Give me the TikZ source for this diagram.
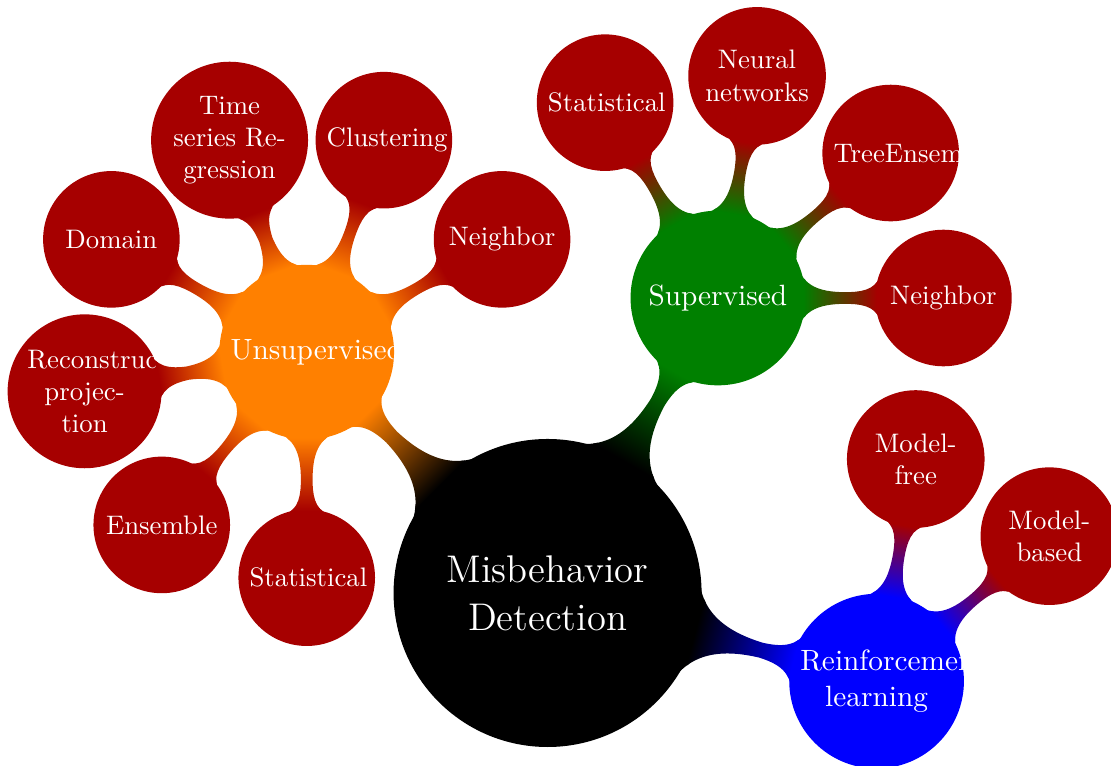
\documentclass[tikz,border=0pt]{standalone}
\usetikzlibrary{mindmap,calc}
\hyphenation{projec-tion}
\begin{document}
\begin{tikzpicture}[mindmap,
  base/.style={concept, circle, text=white, inner sep=0pt, align=center},
  rootc/.style={base, concept color=black, fill=black, minimum size=4cm, text width=3.5cm, font=\Large},
  lvlone/.style={base, minimum size=2.25cm, text width=2cm, font=\fontsize{10.95}{13.6}\selectfont},
  leaf/.style={base, concept color=red!65!black, fill=red!65!black, minimum size=1.75cm, text width=1.5cm, inner sep=1.3pt, font=\normalsize},
]
\useasboundingbox (0,0) rectangle (14.58,10.052);
\node[rootc] (root) at (7.186,2.270) {Misbehavior Detection};
% level 1
\node[lvlone, concept color=orange, fill=orange] (uns) at ($(root)+(135:4.47)$) {Unsupervised};
\node[lvlone, concept color=green!50!black, fill=green!50!black] (sup) at ($(root)+(60:4.47)$) {Supervised};
\node[lvlone, concept color=blue, fill=blue] (rl) at ($(root)+(-15:4.47)$) {Reinforcement learning};
% unsupervised leaves
\node[leaf] (u1) at ($(uns)+(30:2.96)$) {Neighbor};
\node[leaf] (u2) at ($(uns)+(70:2.96)$) {Clustering};
\node[leaf] (u3) at ($(uns)+(110:2.96)$) {Time series Regression};
\node[leaf] (u4) at ($(uns)+(150:2.96)$) {Domain};
\node[leaf] (u5) at ($(uns)+(190:2.96)$) {Reconstruction projection};
\node[leaf] (u6) at ($(uns)+(230:2.96)$) {Ensemble};
\node[leaf] (u7) at ($(uns)+(270:2.96)$) {Statistical};
% supervised leaves
\node[leaf] (s1) at ($(sup)+(120:2.96)$) {Statistical};
\node[leaf] (s2) at ($(sup)+(80:2.96)$) {Neural networks};
\node[leaf] (s3) at ($(sup)+(40:2.96)$) {TreeEnsemble};
\node[leaf] (s4) at ($(sup)+(0:2.96)$) {Neighbor};
% reinforcement leaves
\node[leaf] (r1) at ($(rl)+(80:2.96)$) {Model-free};
\node[leaf] (r2) at ($(rl)+(40:2.96)$) {Model-based};
% connections
\path (root) to[circle connection bar switch color=from (black) to (orange)] (uns);
\path (root) to[circle connection bar switch color=from (black) to (green!50!black)] (sup);
\path (root) to[circle connection bar switch color=from (black) to (blue)] (rl);
\foreach \n in {u1,u2,u3,u4,u5,u6,u7}
  \path (uns) to[circle connection bar switch color=from (orange) to (red!65!black)] (\n);
\foreach \n in {s1,s2,s3,s4}
  \path (sup) to[circle connection bar switch color=from (green!50!black) to (red!65!black)] (\n);
\foreach \n in {r1,r2}
  \path (rl) to[circle connection bar switch color=from (blue) to (red!65!black)] (\n);
\end{tikzpicture}
\end{document}
